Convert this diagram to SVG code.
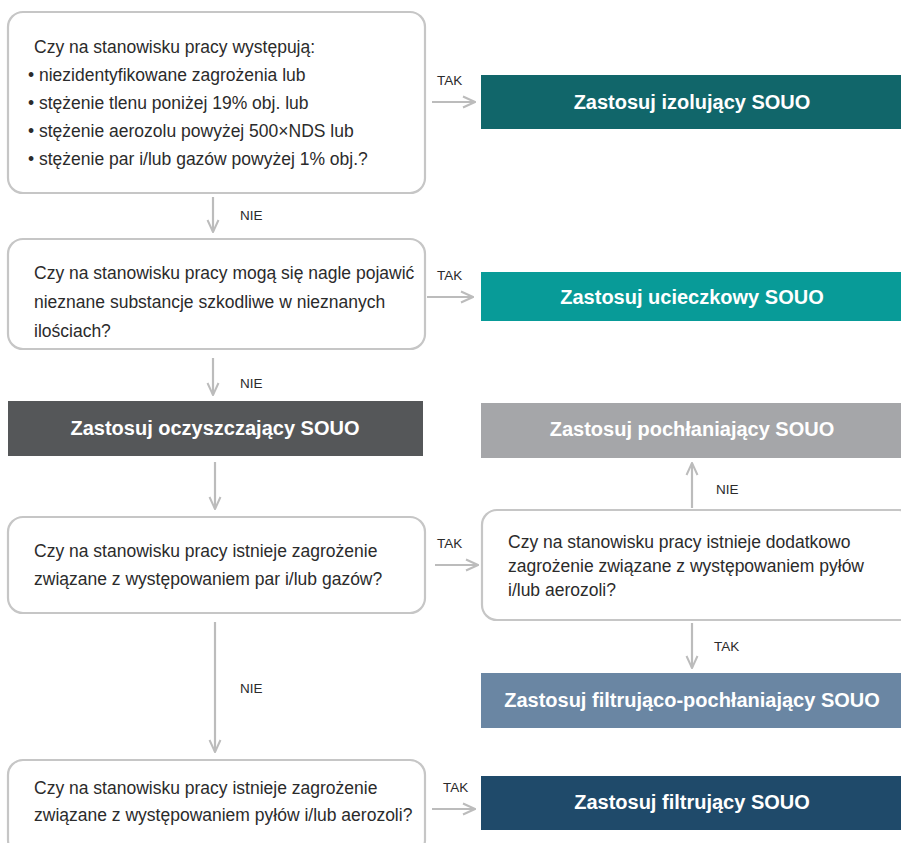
<svg xmlns="http://www.w3.org/2000/svg" width="901" height="843" viewBox="0 0 901 843">
<defs>
<marker id="arr" viewBox="0 0 14 14" refX="13" refY="7" markerWidth="14" markerHeight="14" markerUnits="userSpaceOnUse" orient="auto">
<path d="M1,1.5 L13,7 L1,12.5" fill="none" stroke="#bcbcbc" stroke-width="2"/>
</marker>
<style>
.q{fill:#fff;stroke:#c6c6c6;stroke-width:2.2}
.t{font-family:"Liberation Sans",Arial,sans-serif;font-size:17.5px;fill:#2b2b2b}
.r{font-family:"Liberation Sans",Arial,sans-serif;font-size:20px;font-weight:bold;fill:#fff;text-anchor:middle}
.l{font-family:"Liberation Sans",Arial,sans-serif;font-size:13.5px;fill:#2b2b2b}
.c{fill:none;stroke:#bcbcbc;stroke-width:2.2;marker-end:url(#arr)}
</style>
</defs>
<rect width="901" height="843" fill="#fff"/>
<g id="q1">
<rect class="q" x="8" y="12" width="417" height="181" rx="15"/>
<text class="t" x="34" y="53">Czy na stanowisku pracy występują:</text>
<text class="t" x="28" y="81">• niezidentyfikowane zagrożenia lub</text>
<text class="t" x="28" y="109">• stężenie tlenu poniżej 19% obj. lub</text>
<text class="t" x="28" y="137">• stężenie aerozolu powyżej 500×NDS lub</text>
<text class="t" x="28" y="165">• stężenie par i/lub gazów powyżej 1% obj.?</text>
</g>
<g id="r1">
<rect x="481" y="75" width="420" height="54" fill="#11666a"/>
<text class="r" x="692" y="109">Zastosuj izolujący SOUO</text>
</g>
<g id="q2">
<rect class="q" x="8" y="239" width="417" height="110" rx="15"/>
<text class="t" x="34" y="279">Czy na stanowisku pracy mogą się nagle pojawić</text>
<text class="t" x="34" y="308">nieznane substancje szkodliwe w nieznanych</text>
<text class="t" x="34" y="337">ilościach?</text>
</g>
<g id="r2">
<rect x="481" y="272" width="420" height="49" fill="#089b98"/>
<text class="r" x="692" y="304">Zastosuj ucieczkowy SOUO</text>
</g>
<g id="r3">
<rect x="8" y="401" width="415" height="55" fill="#555759"/>
<text class="r" x="215" y="435">Zastosuj oczyszczający SOUO</text>
</g>
<g id="r4">
<rect x="481" y="403" width="420" height="55" fill="#a5a6a9"/>
<text class="r" x="692" y="436">Zastosuj pochłaniający SOUO</text>
</g>
<g id="q3">
<rect class="q" x="8" y="517" width="417" height="96" rx="15"/>
<text class="t" x="34" y="557">Czy na stanowisku pracy istnieje zagrożenie</text>
<text class="t" x="34" y="585">związane z występowaniem par i/lub gazów?</text>
</g>
<g id="q4">
<rect class="q" x="482" y="510" width="432" height="110" rx="15"/>
<text class="t" x="508" y="548">Czy na stanowisku pracy istnieje dodatkowo</text>
<text class="t" x="508" y="572">zagrożenie związane z występowaniem pyłów</text>
<text class="t" x="508" y="596">i/lub aerozoli?</text>
</g>
<g id="r5">
<rect x="481" y="673" width="420" height="55" fill="#6a86a3"/>
<text class="r" x="692" y="707">Zastosuj filtrująco-pochłaniający SOUO</text>
</g>
<g id="q5">
<rect class="q" x="8" y="760" width="417" height="95" rx="15"/>
<text class="t" x="34" y="794">Czy na stanowisku pracy istnieje zagrożenie</text>
<text class="t" x="34" y="821">związane z występowaniem pyłów i/lub aerozoli?</text>
</g>
<g id="r6">
<rect x="481" y="776" width="420" height="54" fill="#1f4a6a"/>
<text class="r" x="692" y="809">Zastosuj filtrujący SOUO</text>
</g>
<g id="connectors">
<path class="c" d="M432,102 H475"/>
<path class="c" d="M213,197 V232"/>
<path class="c" d="M427,297 H473"/>
<path class="c" d="M213,358 V395"/>
<path class="c" d="M215,462 V509"/>
<path class="c" d="M435,565 H478"/>
<path class="c" d="M692,508 V463"/>
<path class="c" d="M692,623 V668"/>
<path class="c" d="M215,622 V752"/>
<path class="c" d="M432,809 H475"/>
<text class="l" x="437" y="85">TAK</text>
<text class="l" x="240" y="220">NIE</text>
<text class="l" x="437" y="280">TAK</text>
<text class="l" x="240" y="388">NIE</text>
<text class="l" x="437" y="548">TAK</text>
<text class="l" x="716" y="494">NIE</text>
<text class="l" x="714" y="651">TAK</text>
<text class="l" x="240" y="693">NIE</text>
<text class="l" x="443" y="792">TAK</text>
</g>
</svg>
